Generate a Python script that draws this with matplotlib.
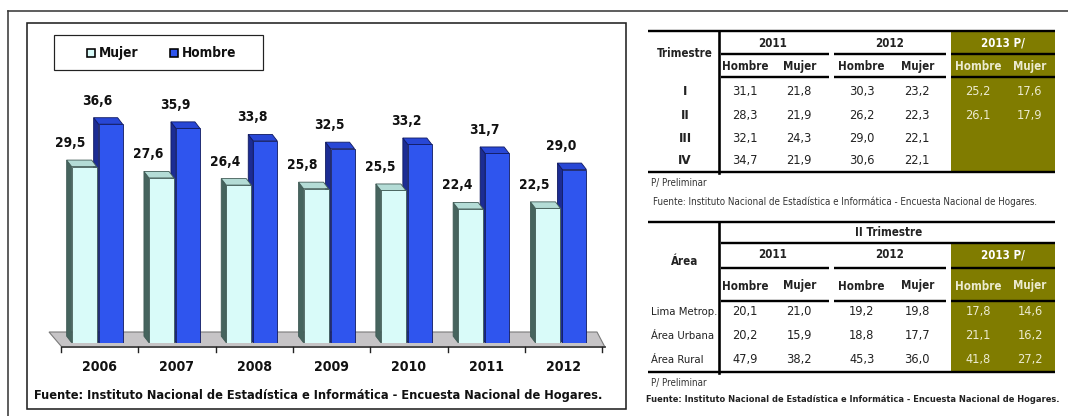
import matplotlib
matplotlib.use("Agg")
import os
import glob
import matplotlib.pyplot as plt
from matplotlib.patches import Polygon, Rectangle
from matplotlib import font_manager

# ---------------- data ----------------
years = ['2006', '2007', '2008', '2009', '2010', '2011', '2012']
mujer = [29.5, 27.6, 26.4, 25.8, 25.5, 22.4, 22.5]
hombre = [36.6, 35.9, 33.8, 32.5, 33.2, 31.7, 29.0]

trimestres = ['I', 'II', 'III', 'IV']
t1_2011_h = [31.1, 28.3, 32.1, 34.7]
t1_2011_m = [21.8, 21.9, 24.3, 21.9]
t1_2012_h = [30.3, 26.2, 29.0, 30.6]
t1_2012_m = [23.2, 22.3, 22.1, 22.1]
t1_2013_h = [25.2, 26.1]
t1_2013_m = [17.6, 17.9]

areas = ['Lima Metrop.', 'Área Urbana', 'Área Rural']
t2_2011_h = [20.1, 20.2, 47.9]
t2_2011_m = [21.0, 15.9, 38.2]
t2_2012_h = [19.2, 18.8, 45.3]
t2_2012_m = [19.8, 17.7, 36.0]
t2_2013_h = [17.8, 21.1, 41.8]
t2_2013_m = [14.6, 16.2, 27.2]

fuente = 'Fuente: Instituto Nacional de Estadística e Informática - Encuesta Nacional de Hogares.'


def fmt(v):
    return f"{v:.1f}".replace('.', ',')


# ---------------- font: look for a narrow / condensed face ----------------
def all_font_files():
    paths = set(f.fname for f in font_manager.fontManager.ttflist)
    for d in ['/usr/share/fonts', '/usr/local/share/fonts', os.path.expanduser('~/.fonts'),
              os.path.expanduser('~/.local/share/fonts')]:
        for ext in ('ttf', 'otf', 'TTF', 'OTF'):
            paths.update(glob.glob(os.path.join(d, '**', '*.' + ext), recursive=True))
    return sorted(paths)


def find_narrow():
    files = all_font_files()
    cands = []
    for p in files:
        b = os.path.basename(p).lower()
        if ('narrow' in b or 'condensed' in b) and 'semicondensed' not in b \
                and 'extracondensed' not in b and 'italic' not in b and 'oblique' not in b \
                and '[' not in b:
            cands.append(p)
    prefs = ['liberationsansnarrow', 'arialnarrow', 'dejavusanscondensed', 'robotocondensed',
             'notosans-condensed', 'notosanscondensed', 'opensans_condensed', 'opensanscondensed', '']
    for pref in prefs:
        group = [p for p in cands if pref in os.path.basename(p).lower().replace(' ', '')]
        if not group:
            continue
        reg = None
        bold = None
        for p in group:
            b = os.path.basename(p).lower()
            isbold = 'bold' in b and not any(w in b for w in ('semibold', 'extrabold', 'demibold'))
            other = any(w in b for w in ('light', 'thin', 'black', 'medium', 'semibold',
                                         'extrabold', 'demibold', 'heavy'))
            if isbold and bold is None:
                bold = p
            elif not isbold and not other and reg is None:
                reg = p
        if reg and bold:
            return reg, bold
    return None, None


reg_file, bold_file = find_narrow()
if reg_file:
    FP_R = font_manager.FontProperties(fname=reg_file)
    FP_B = font_manager.FontProperties(fname=bold_file)
else:
    FP_R = font_manager.FontProperties(family=['Roboto', 'DejaVu Sans'], weight='normal')
    FP_B = font_manager.FontProperties(family=['Roboto', 'DejaVu Sans'], weight='bold')
FPS = {'r': FP_R, 'b': FP_B}

W, H = 1068, 416
fig = plt.figure(figsize=(W / 100, H / 100), dpi=100)
fig.patch.set_facecolor('white')
RENDERER = fig.canvas.get_renderer()


def fit(sample, size, target_px, wt='r'):
    """font size (<= size) so that `sample` is at most target_px wide"""
    fp = FPS[wt].copy()
    fp.set_size(size)
    w, _, _ = RENDERER.get_text_width_height_descent(sample, fp, ismath=False)
    if w > target_px:
        size = size * target_px / w
    return size


def T(axx, x, y, s, size, wt='r', **kw):
    fp = FPS[wt].copy()
    fp.set_size(size)
    return axx.text(x, y, s, fontproperties=fp, **kw)


# sizes per text class (height from reference, width capped near reference width)
S_BARLAB = fit('29,5', 12, 30, 'b')
S_YEAR = fit('2006', 12, 35, 'b')
S_LEG = min(fit('Mujer', 11.5, 40, 'b'), fit('Hombre', 11.5, 55, 'b'))
S_FUENTE = fit(fuente, 11.5, 572, 'b')
S_HEAD = min(fit('Hombre', 10.5, 47, 'b'), fit('Trimestre', 10.5, 58, 'b'),
             fit('2013 P/', 10.5, 44, 'b'), fit('II Trimestre', 10.5, 68, 'b'))
S_RLAB = 9.5
S_VAL = fit('31,1', 10.5, 25.5, 'r')
S_ROW = fit('Lima Metrop.', 10.5, 67, 'r')
S_PRE = fit('P/ Preliminar', 8, 56, 'r')
S_F1 = fit(fuente, 8, 384, 'r')
S_F2 = fit(fuente, 8, 410, 'b')

bg = fig.add_axes([0, 0, 1, 1])
bg.set_xlim(0, W)
bg.set_ylim(H, 0)
bg.axis('off')

PX = 0.72  # points per pixel

# outer frame (open to right/bottom)
bg.plot([8, W], [10.7, 10.7], color='#3a3a3a', lw=1.6 * PX)
bg.plot([8, 8], [10.7, H], color='#3a3a3a', lw=1.6 * PX)

# inner chart box
bg.add_patch(Rectangle((26.7, 22.7), 599, 386.3, fill=False, ec='#222222', lw=1.6 * PX))

# legend
bg.add_patch(Rectangle((54.3, 35), 208.4, 35, fill=False, ec='#222222', lw=1.2 * PX))
bg.add_patch(Rectangle((87, 48.5), 8, 8, fc='#d9fbf9', ec='black', lw=1.6 * PX))
T(bg, 98.5, 53, 'Mujer', S_LEG, 'b', ha='left', va='center', color='#111111')
bg.add_patch(Rectangle((170, 48.5), 8, 8, fc='#2f55ee', ec='black', lw=1.6 * PX))
T(bg, 181.5, 53, 'Hombre', S_LEG, 'b', ha='left', va='center', color='#111111')

# ---------------- 3D bar chart ----------------
x0px, x1px = 61.0, 602.1
base_px = 342.7
top_px = 342.7 - 40 * 5.97
ax = fig.add_axes([x0px / W, (H - base_px) / H, (x1px - x0px) / W, (base_px - top_px) / H])
ax.set_xlim(-0.5, 6.5)
ax.set_ylim(0, 40)
ax.axis('off')
ux = 7.0 / (x1px - x0px)
uy = 40.0 / (base_px - top_px)

floor = Polygon([(-0.5 - 12 * ux, 10.7 * uy), (-0.5 + 536 * ux, 10.7 * uy),
                 (-0.5 + 544 * ux, -4.5 * uy), (-0.5 + 1 * ux, -4.5 * uy)],
                closed=True, fc='#c6c4c6', ec='#7a7a7a', lw=0.8, clip_on=False, zorder=1)
ax.add_patch(floor)
ax.plot([-0.5 + 1 * ux, -0.5 + 544 * ux], [-4.5 * uy, -4.5 * uy], color='#444444', lw=1.3,
        clip_on=False, zorder=1.5)
for k in range(len(years) + 1):
    ax.plot([k - 0.5, k - 0.5], [-4.5 * uy, -9.5 * uy], color='#222222', lw=1.0,
            clip_on=False, zorder=1.5)

dx = -5 * ux
dy = 6.5 * uy

m_off, m_w = -15.5 * ux, 25 * ux
h_off, h_w = 11 * ux, 24 * ux


def bar3d(xs, vals, off, w, front, side, top, edge, z):
    bars = ax.bar([x + off for x in xs], vals, width=w, color=front, edgecolor=edge,
                  linewidth=0.6, zorder=z + 0.2)
    for b in bars:
        xl = b.get_x()
        xr = xl + b.get_width()
        h = b.get_height()
        ax.add_patch(Polygon([(xl, 0), (xl, h), (xl + dx, h + dy), (xl + dx, dy)],
                             closed=True, fc=side, ec=edge, lw=0.6, zorder=z))
        ax.add_patch(Polygon([(xl, h), (xr, h), (xr + dx, h + dy), (xl + dx, h + dy)],
                             closed=True, fc=top, ec=edge, lw=0.6, zorder=z + 0.1))
    return bars


xs = list(range(len(years)))
hb = bar3d(xs, hombre, h_off, h_w, '#2f55ee', '#1c2c93', '#2847d6', '#101a60', 2)
mb = bar3d(xs, mujer, m_off, m_w, '#d9fbf9', '#46645e', '#b4dcd6', '#3f5a55', 4)

for bars, vals in ((mb, mujer), (hb, hombre)):
    for b, v in zip(bars, vals):
        T(ax, b.get_x() - 1 * ux, v + 23.5 * uy, fmt(v), S_BARLAB, 'b', ha='center',
          va='center', color='#111111', clip_on=False, zorder=10)

for i, yr in enumerate(years):
    T(ax, i, -(366.7 - base_px) * uy, yr, S_YEAR, 'b', ha='center', va='center',
      color='#111111', clip_on=False)

T(bg, 34, 395, fuente, S_FUENTE, 'b', ha='left', va='center', color='#111111')

# ---------------- tables ----------------
OLIVE = '#807c00'
LIGHT = '#ecebcf'
TL, TR = 648.3, 1055
VX = 719.3
seg = [(720.7, 829), (834, 945.7), (950.7, 1055)]
col_y = [773, 889.3, 1003.3]
col_sub = [745, 799.3, 861.7, 917.3, 978.3, 1030]
thick = 2.4 * PX
DARK = '#222222'


def hline(y, xa, xb, lw=thick):
    bg.plot([xa, xb], [y, y], color='black', lw=lw, solid_capstyle='butt', zorder=5)


def seg_line(y):
    for a, b in seg:
        hline(y, a, b)


# ---- table 1 ----
t1_top, t1_bot = 31, 171.7
bg.add_patch(Rectangle((seg[2][0], t1_top), seg[2][1] - seg[2][0], t1_bot - t1_top, fc=OLIVE,
                       ec='none', zorder=1))
hline(t1_top, TL, TR)
hline(t1_bot, TL, TR)
bg.plot([VX, VX], [t1_top, t1_bot + 1], color='black', lw=2.6 * PX, zorder=5)
seg_line(54)
seg_line(76.7)
T(bg, 685, 53.3, 'Trimestre', S_HEAD, 'b', ha='center', va='center', color=DARK)
for j, lab in enumerate(['2011', '2012', '2013 P/']):
    T(bg, col_y[j], 43.3, lab, S_HEAD, 'b', ha='center', va='center',
      color='white' if j == 2 else DARK)
for j in range(6):
    T(bg, col_sub[j], 66.7, 'Hombre' if j % 2 == 0 else 'Mujer', S_HEAD, 'b', ha='center',
      va='center', color=LIGHT if j >= 4 else DARK)
row_y1 = [91.7, 115.7, 138.3, 160.7]
cols1 = [t1_2011_h, t1_2011_m, t1_2012_h, t1_2012_m, t1_2013_h, t1_2013_m]
for r, lab in enumerate(trimestres):
    T(bg, 685, row_y1[r], lab, S_RLAB, 'b', ha='center', va='center', color=DARK)
for j, col in enumerate(cols1):
    for r, v in enumerate(col):
        T(bg, col_sub[j], row_y1[r], fmt(v), S_VAL, 'r', ha='center', va='center',
          color=LIGHT if j >= 4 else DARK)
T(bg, 650.7, 183.3, 'P/ Preliminar', S_PRE, 'r', ha='left', va='center', color='#333333')
T(bg, 652.7, 201.7, fuente, S_F1, 'r', ha='left', va='center', color='#333333')

# ---- table 2 ----
t2_top, t2_bot = 221.7, 372.3
bg.add_patch(Rectangle((seg[2][0], 243.3), seg[2][1] - seg[2][0], t2_bot - 243.3, fc=OLIVE,
                       ec='none', zorder=1))
hline(t2_top, TL, TR)
hline(t2_bot, TL, TR)
hline(243.3, 720.7, TR)
bg.plot([VX, VX], [t2_top, t2_bot + 1], color='black', lw=2.6 * PX, zorder=5)
seg_line(268.3)
seg_line(300.7)
T(bg, 888.3, 232.7, 'II Trimestre', S_HEAD, 'b', ha='center', va='center', color=DARK)
T(bg, 685, 261.7, 'Área', S_HEAD, 'b', ha='center', va='center', color=DARK)
for j, lab in enumerate(['2011', '2012', '2013 P/']):
    T(bg, col_y[j], 255, lab, S_HEAD, 'b', ha='center', va='center',
      color='white' if j == 2 else DARK)
for j in range(6):
    T(bg, col_sub[j], 286, 'Hombre' if j % 2 == 0 else 'Mujer', S_HEAD, 'b', ha='center',
      va='center', color=LIGHT if j >= 4 else DARK)
row_y2 = [311.7, 336, 360]
cols2 = [t2_2011_h, t2_2011_m, t2_2012_h, t2_2012_m, t2_2013_h, t2_2013_m]
for r, lab in enumerate(areas):
    T(bg, 650.7, row_y2[r], lab, S_ROW, 'r', ha='left', va='center', color=DARK)
for j, col in enumerate(cols2):
    for r, v in enumerate(col):
        T(bg, col_sub[j], row_y2[r], fmt(v), S_VAL, 'r', ha='center', va='center',
          color=LIGHT if j >= 4 else DARK)
T(bg, 650.7, 382.7, 'P/ Preliminar', S_PRE, 'r', ha='left', va='center', color='#333333')
T(bg, 646, 400, fuente, S_F2, 'b', ha='left', va='center', color=DARK)

fig.savefig('out.png', dpi=100, facecolor='white')
